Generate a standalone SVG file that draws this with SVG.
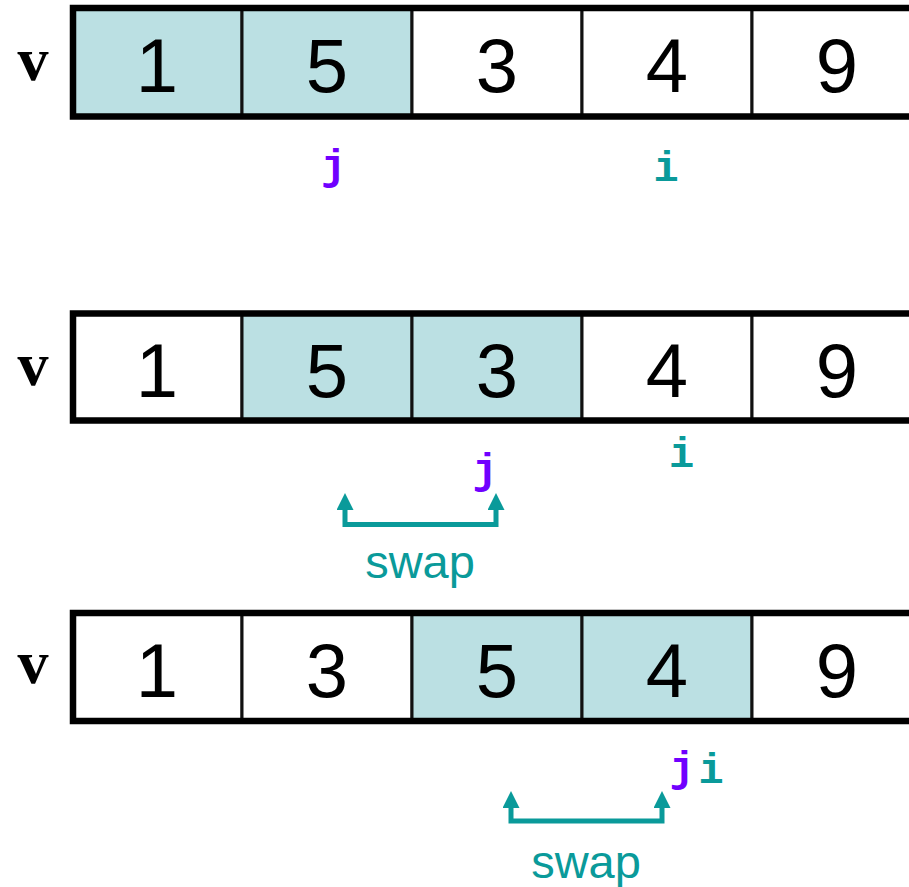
<svg xmlns="http://www.w3.org/2000/svg" width="909" height="887" viewBox="0 0 909 887">
<style>
.cell{stroke:#111;stroke-width:3}
.w{fill:#fff}
.h{fill:#bbe0e3}
.num{font-family:"Liberation Sans",Arial,sans-serif;font-size:76px;fill:#000;text-anchor:middle}
.thick{stroke:#000;stroke-width:6.5;fill:none}
.lbl{font-family:"Liberation Serif","Times New Roman",serif;font-weight:bold;font-size:62px;fill:#000;text-anchor:middle}
.j{font-family:"Liberation Mono","Courier New",monospace;font-weight:bold;font-size:42px;fill:#7000ff;text-anchor:middle}
.i{font-family:"Liberation Mono","Courier New",monospace;font-weight:bold;font-size:42px;fill:#0a9a9a;text-anchor:middle}
.swap{font-family:"Liberation Sans",Arial,sans-serif;font-size:47px;fill:#0a9a9a;text-anchor:middle}
.arr{stroke:#0a9a9a;stroke-width:5;fill:none;marker-start:url(#ah);marker-end:url(#ahe)}
</style>
<defs>
<marker id="ah" markerUnits="userSpaceOnUse" markerWidth="20" markerHeight="20" refX="0" refY="8.5" orient="auto-start-reverse">
<path d="M0,0 L17,8.5 L0,17 z" fill="#0a9a9a"/>
</marker>
<marker id="ahe" markerUnits="userSpaceOnUse" markerWidth="20" markerHeight="20" refX="0" refY="8.5" orient="auto">
<path d="M0,0 L17,8.5 L0,17 z" fill="#0a9a9a"/>
</marker>
</defs>

<g id="row1">
<text class="lbl" x="33" y="80">v</text>
<g id="r1c1"><rect class="cell h" x="73" y="8" width="169" height="108.5"/><text class="num" x="157" y="92">1</text></g>
<g id="r1c2"><rect class="cell h" x="242" y="8" width="170" height="108.5"/><text class="num" x="327" y="92">5</text></g>
<g id="r1c3"><rect class="cell w" x="412" y="8" width="170" height="108.5"/><text class="num" x="497" y="92">3</text></g>
<g id="r1c4"><rect class="cell w" x="582" y="8" width="170" height="108.5"/><text class="num" x="667" y="92">4</text></g>
<g id="r1c5"><rect class="cell w" x="752" y="8" width="170" height="108.5"/><text class="num" x="837" y="92">9</text></g>
<path class="thick" d="M909,8 H73 V116.5 H909"/>
<text class="j" x="333.5" y="179">j</text>
<text class="i" x="666" y="181">i</text>
</g>

<g id="row2">
<text class="lbl" x="33" y="385">v</text>
<g id="r2c1"><rect class="cell w" x="73" y="313.5" width="169" height="107"/><text class="num" x="157" y="397">1</text></g>
<g id="r2c2"><rect class="cell h" x="242" y="313.5" width="170" height="107"/><text class="num" x="327" y="397">5</text></g>
<g id="r2c3"><rect class="cell h" x="412" y="313.5" width="170" height="107"/><text class="num" x="497" y="397">3</text></g>
<g id="r2c4"><rect class="cell w" x="582" y="313.5" width="170" height="107"/><text class="num" x="667" y="397">4</text></g>
<g id="r2c5"><rect class="cell w" x="752" y="313.5" width="170" height="107"/><text class="num" x="837" y="397">9</text></g>
<path class="thick" d="M909,313.5 H73 V420.5 H909"/>
<text class="j" x="485" y="483">j</text>
<text class="i" x="681.5" y="467">i</text>
</g>

<g id="row3">
<text class="lbl" x="33" y="683">v</text>
<g id="r3c1"><rect class="cell w" x="73" y="613" width="169" height="108"/><text class="num" x="157" y="697">1</text></g>
<g id="r3c2"><rect class="cell w" x="242" y="613" width="170" height="108"/><text class="num" x="327" y="697">3</text></g>
<g id="r3c3"><rect class="cell h" x="412" y="613" width="170" height="108"/><text class="num" x="497" y="697">5</text></g>
<g id="r3c4"><rect class="cell h" x="582" y="613" width="170" height="108"/><text class="num" x="667" y="697">4</text></g>
<g id="r3c5"><rect class="cell w" x="752" y="613" width="170" height="108"/><text class="num" x="837" y="697">9</text></g>
<path class="thick" d="M909,613 H73 V721 H909"/>
<text class="j" x="682" y="781">j</text>
<text class="i" x="711" y="783">i</text>
</g>

<g id="connectors">
<path class="arr" d="M345,510 V524.5 H496 V510"/>
<path class="arr" d="M511,808 V821 H662 V808"/>
</g>
<text class="swap" x="420" y="578">swap</text>
<text class="swap" x="586" y="878">swap</text>
</svg>
